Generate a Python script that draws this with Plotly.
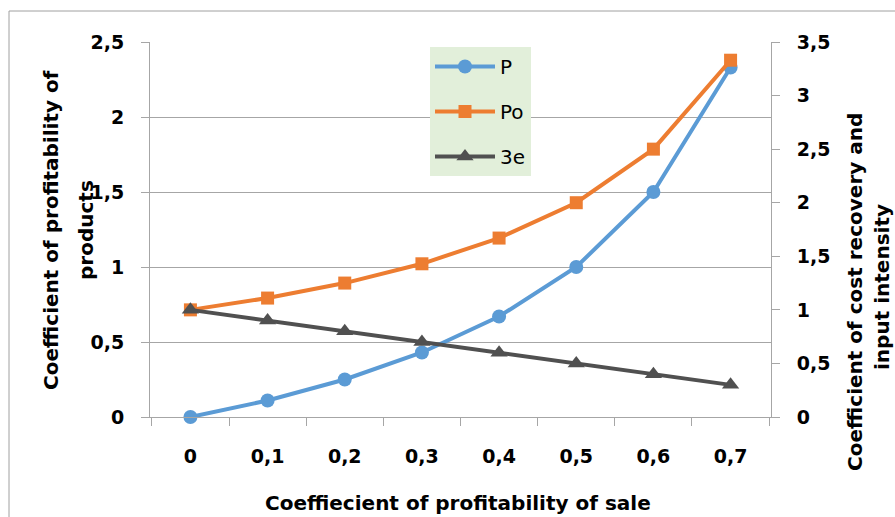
import plotly.graph_objects as go

# Coefficient of profitability of sale (category labels)
sale_labels = ["0", "0,1", "0,2", "0,3", "0,4", "0,5", "0,6", "0,7"]

# Series values
p_values = [0, 0.11, 0.25, 0.43, 0.67, 1.0, 1.5, 2.33]        # left axis
po_values = [1.0, 1.11, 1.25, 1.43, 1.67, 2.0, 2.5, 3.33]     # right axis
ze_values = [1.0, 0.9, 0.8, 0.7, 0.6, 0.5, 0.4, 0.3]          # right axis

FONT = "DejaVu Sans"
GRID = "#A6A6A6"

# plot area in pixels
L, R, T, B = 150, 771, 42, 417

fig = go.Figure()
fig.add_trace(go.Scatter(
    x=sale_labels, y=p_values, name="P", mode="lines+markers",
    line=dict(color="#5B9BD5", width=4),
    marker=dict(symbol="circle", size=14, color="#5B9BD5"),
    cliponaxis=False, legendgroup="a"))
fig.add_trace(go.Scatter(
    x=sale_labels, y=po_values, name="Po", mode="lines+markers", yaxis="y2",
    line=dict(color="#ED7D31", width=4),
    marker=dict(symbol="square", size=13, color="#ED7D31"),
    cliponaxis=False, legendgroup="b"))
fig.add_trace(go.Scatter(
    x=sale_labels, y=ze_values, name="3e", mode="lines+markers", yaxis="y2",
    line=dict(color="#505050", width=4),
    marker=dict(symbol="triangle-up", size=15, color="#505050"),
    cliponaxis=False, legendgroup="c"))

tickfont = dict(family=FONT, size=19, color="black", weight="bold")
title_font = dict(family=FONT, size=20, color="black", weight="bold")

fig.update_layout(
    width=895, height=517,
    margin=dict(l=L, r=895 - R, t=T, b=517 - B),
    paper_bgcolor="white", plot_bgcolor="white",
    separators=", ",
    showlegend=True,
    legend=dict(
        x=(430 - L) / (R - L), y=(B - 47) / (B - T), xanchor="left", yanchor="top",
        bgcolor="#E2EFDA", borderwidth=0,
        font=dict(family=FONT, size=20, color="black"),
        tracegroupgap=16, itemwidth=60,
    ),
    xaxis=dict(
        type="category", tickson="boundaries", ticks="outside", ticklen=8,
        tickcolor=GRID, showline=True, linecolor=GRID, linewidth=1,
        showgrid=False, tickfont=tickfont, ticklabelstandoff=22,
    ),
    yaxis=dict(
        range=[0, 2.5], dtick=0.5, showgrid=True, gridcolor=GRID, gridwidth=1,
        zeroline=False, showline=True, linecolor=GRID, ticks="outside",
        ticklen=8, tickcolor=GRID, tickfont=tickfont, ticklabelstandoff=13,
    ),
    yaxis2=dict(
        range=[0, 3.5], dtick=0.5, overlaying="y", side="right",
        showgrid=False, zeroline=False, showline=True, linecolor=GRID,
        ticks="outside", ticklen=8, tickcolor=GRID, tickfont=tickfont,
        ticklabelstandoff=13,
    ),
    shapes=[dict(
        type="rect", xref="paper", yref="paper",
        x0=(9 - L) / (R - L), x1=2.0, y0=-1.0, y1=(B - 11) / (B - T),
        line=dict(color="#A0A0A0", width=1), layer="below",
    )],
)


def to_paper(px, py):
    return (px - L) / (R - L), (B - py) / (B - T)


# Axis titles
titles = [
    ("Coeffiecient of profitability of sale", 458, 503, 0),
    ("Coefficient of profitability of", 51, 230, -90),
    ("products", 86, 230, -90),
    ("Coefficient of cost recovery and", 855, 292, -90),
    ("input intensity", 882, 287, -90),
]
for text, px, py, ang in titles:
    ax, ay = to_paper(px, py)
    fig.add_annotation(x=ax, y=ay, xref="paper", yref="paper", text=text,
                       textangle=ang, showarrow=False, font=title_font,
                       xanchor="center", yanchor="middle")

fig.write_html("out.html")
